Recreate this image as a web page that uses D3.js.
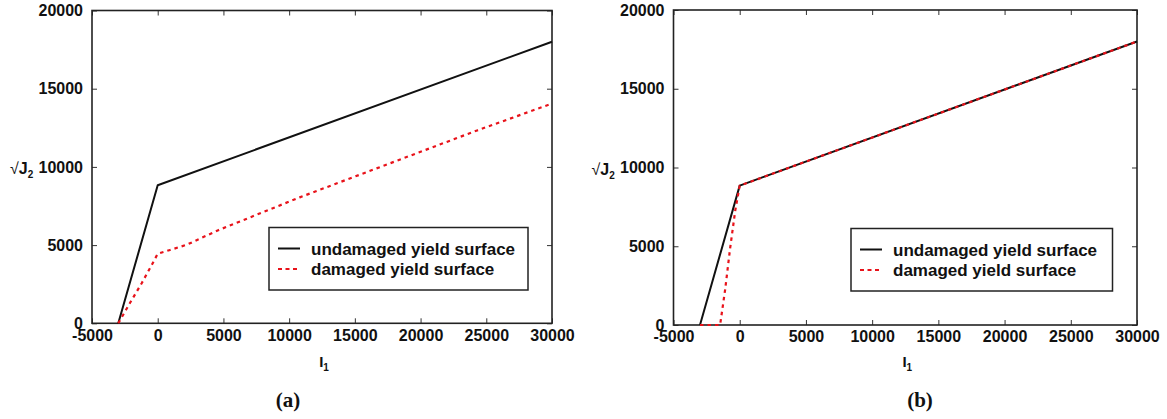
<!DOCTYPE html>
<html>
<head>
<meta charset="utf-8">
<script src="https://cdn.jsdelivr.net/npm/d3@7"></script>
<style>
  body { margin: 0; background: #fff; }
  svg { display: block; }
  text { font-family: "Liberation Sans", Arial, sans-serif; font-weight: bold; fill: #111; }
</style>
</head>
<body>
<svg id="chart" width="1167" height="419"></svg>
<script>
// --- data ---
var xTicks = [-5000, 0, 5000, 10000, 15000, 20000, 25000, 30000];
var yTicks = [0, 5000, 10000, 15000, 20000];
var seriesNames = ["undamaged yield surface", "damaged yield surface"];
var panelTitles = ["(a)", "(b)"];

// panel (a)
var undamagedA_I1 = [-3000, 0, 30000];
var undamagedA_J2 = [0, 8830, 18000];
var damagedA_I1 = [-3000, -1980, -1220, -460, 0, 940, 2200, 4600, 10800, 24300, 30000];
var damagedA_J2 = [0, 1490, 2560, 3720, 4450, 4690, 5020, 5950, 8050, 12330, 14050];

// panel (b)
var undamagedB_I1 = [-3000, 0, 30000];
var undamagedB_J2 = [0, 8850, 18000];
var damagedB_I1 = [-3000, -1480, -1100, -720, -340, 0, 30000];
var damagedB_J2 = [0, 0, 2250, 4900, 7250, 8850, 18000];

var svg = d3.select("#chart");
var plain = function(d) { return String(d); };

var panels = [
  { left: 92, right: 552, top: 10.5, bottom: 323.3,
    lines: [[undamagedA_I1, undamagedA_J2], [damagedA_I1, damagedA_J2]],
    legend: { x: 269, y: 227.5, w: 259, h: 62.5 }, title: panelTitles[0], titleX: 288 },
  { left: 673.5, right: 1137, top: 10, bottom: 325,
    lines: [[undamagedB_I1, undamagedB_J2], [damagedB_I1, damagedB_J2]],
    legend: { x: 851, y: 228.5, w: 261.5, h: 62.5 }, title: panelTitles[1], titleX: 920 }
];

var styles = [
  { stroke: "#111", dash: null, width: 2 },
  { stroke: "#e8121a", dash: "3.5,4", width: 2.2 }
];

panels.forEach(function(p) {
  var x = d3.scaleLinear().domain([-5000, 30000]).range([p.left, p.right]);
  var y = d3.scaleLinear().domain([0, 20000]).range([p.bottom, p.top]);
  var g = svg.append("g");

  // axes with inward ticks
  g.append("g")
      .attr("transform", "translate(0," + p.bottom + ")")
      .call(d3.axisBottom(x).tickValues(xTicks).tickFormat(plain).tickSizeInner(-5).tickSizeOuter(0).tickPadding(6));
  g.append("g")
      .attr("transform", "translate(0," + p.top + ")")
      .call(d3.axisTop(x).tickValues(xTicks).tickSizeInner(-5).tickSizeOuter(0).tickFormat(""));
  g.append("g")
      .attr("transform", "translate(" + p.left + ",0)")
      .call(d3.axisLeft(y).tickValues(yTicks).tickFormat(plain).tickSizeInner(-5).tickSizeOuter(0).tickPadding(9));
  g.append("g")
      .attr("transform", "translate(" + p.right + ",0)")
      .call(d3.axisRight(y).tickValues(yTicks).tickSizeInner(-5).tickSizeOuter(0).tickFormat(""));

  g.selectAll(".domain").remove();
  g.selectAll(".tick line").attr("stroke", "#333").attr("stroke-width", 1);
  g.selectAll(".tick text")
      .style("font-family", "'Liberation Sans', Arial, sans-serif")
      .style("font-weight", "bold")
      .style("font-size", "16px")
      .attr("fill", "#111");

  // frame
  g.append("rect")
      .attr("x", p.left).attr("y", p.top)
      .attr("width", p.right - p.left).attr("height", p.bottom - p.top)
      .attr("fill", "none").attr("stroke", "#222").attr("stroke-width", 1.6);

  // curves
  p.lines.forEach(function(ln, i) {
    var pts = ln[0].map(function(v, k) { return [v, ln[1][k]]; });
    var line = d3.line().x(function(d) { return x(d[0]); }).y(function(d) { return y(d[1]); });
    g.append("path")
        .datum(pts)
        .attr("d", line)
        .attr("fill", "none")
        .attr("stroke", styles[i].stroke)
        .attr("stroke-width", styles[i].width)
        .attr("stroke-dasharray", styles[i].dash)
        .attr("stroke-linejoin", "round");
  });

  // legend
  var L = p.legend;
  var lg = g.append("g");
  lg.append("rect")
      .attr("x", L.x).attr("y", L.y).attr("width", L.w).attr("height", L.h)
      .attr("fill", "#fff").attr("stroke", "#222").attr("stroke-width", 1.5);
  seriesNames.forEach(function(name, i) {
    var cy = L.y + 21 + i * 20.5;
    lg.append("line")
        .attr("x1", L.x + 9).attr("x2", L.x + 31)
        .attr("y1", cy).attr("y2", cy)
        .attr("stroke", styles[i].stroke)
        .attr("stroke-width", 2)
        .attr("stroke-dasharray", styles[i].dash ? "4,3.5" : null);
    lg.append("text")
        .attr("x", L.x + 42).attr("y", cy + 6)
        .style("font-size", "17px")
        .text(name);
  });

  // axis titles
  var xl = g.append("text")
      .attr("x", (p.left + p.right) / 2 + 2).attr("y", 367)
      .attr("text-anchor", "middle")
      .style("font-size", "15px");
  xl.append("tspan").text("I");
  xl.append("tspan").attr("dy", 4).style("font-size", "10px").text("1");

  var yl = g.append("text")
      .attr("x", p.left - 82).attr("y", y(10000) + 7)
      .style("font-size", "16px");
  yl.append("tspan").style("font-weight", "normal").text("√");
  yl.append("tspan").text("J");
  yl.append("tspan").attr("dy", 4).style("font-size", "10px").text("2");

  // panel label
  g.append("text")
      .attr("x", p.titleX).attr("y", 407)
      .attr("text-anchor", "middle")
      .style("font-family", "'Liberation Serif', 'Times New Roman', serif")
      .style("font-size", "21px")
      .text(p.title);
});
</script>
</body>
</html>
